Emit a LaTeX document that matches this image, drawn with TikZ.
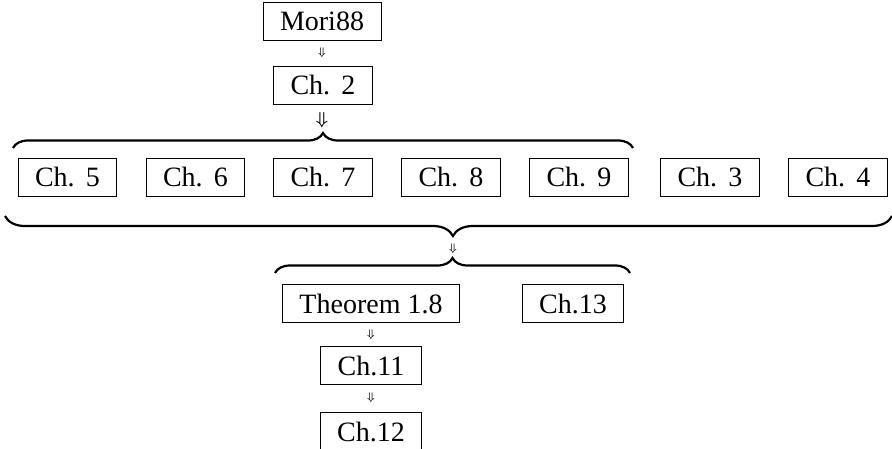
\documentclass[tikz,border=0pt]{standalone}
\usepackage{fontspec}
\setmainfont{Liberation Serif}
\usetikzlibrary{decorations.pathreplacing}
\begin{document}
\begin{tikzpicture}[x=1pt,y=1pt,
  chbox/.style={draw, line width=0.9pt, inner xsep=17pt, inner ysep=0pt,
    minimum height=38pt, text height=20pt, text depth=0pt,
    font=\fontsize{28}{30}\selectfont},
  smallarr/.style={inner sep=0pt, font=\fontsize{11}{11}\selectfont\boldmath},
  bigarr/.style={inner sep=0pt, font=\fontsize{18}{18}\selectfont\boldmath},
  brc/.style={decorate, line width=2.2pt,
    decoration={brace, amplitude=#1}},
  brc/.default=15pt]
\useasboundingbox (0,0) rectangle (892,-449);
% top column
\node[chbox] (mori) at (322,-21) {Mori88};
\node[smallarr] (a1) at (322,-53) {$\Downarrow$};
\node[chbox] (ch2) at (323,-85) {Ch.\hspace{0.4em}2};
\node[bigarr] (a2) at (322,-120) {$\Downarrow$};
% row
\node[chbox] (ch5) at (67.5,-177) {Ch.\hspace{0.4em}5};
\node[chbox] (ch6) at (195.5,-177) {Ch.\hspace{0.4em}6};
\node[chbox] (ch7) at (323,-177) {Ch.\hspace{0.4em}7};
\node[chbox] (ch8) at (451,-177) {Ch.\hspace{0.4em}8};
\node[chbox] (ch9) at (579,-177) {Ch.\hspace{0.4em}9};
\node[chbox] (ch3) at (710,-177) {Ch.\hspace{0.4em}3};
\node[chbox] (ch4) at (838,-177) {Ch.\hspace{0.4em}4};
% braces
\coordinate (b1l) at (13,-148);
\coordinate (b1r) at (633,-148);
\draw[brc] (b1l) -- (b1r);
\coordinate (b2l) at (5,-216);
\coordinate (b2r) at (892,-216);
\draw[brc=20pt, decoration={aspect=0.495}] (b2r) -- (b2l);
\node[smallarr] (a3) at (453,-249) {$\Downarrow$};
\coordinate (b3l) at (275,-273);
\coordinate (b3r) at (630,-273);
\draw[brc] (b3l) -- (b3r);
% bottom
\node[chbox] (thm) at (371,-303.5) {Theorem 1.8};
\node[chbox] (ch13) at (573,-303.5) {Ch.13};
\node[smallarr] (a4) at (371,-335) {$\Downarrow$};
\node[chbox] (ch11) at (371,-365.5) {Ch.11};
\node[smallarr] (a5) at (371,-398) {$\Downarrow$};
\node[chbox] (ch12) at (371,-431) {Ch.12};
\end{tikzpicture}
\end{document}
